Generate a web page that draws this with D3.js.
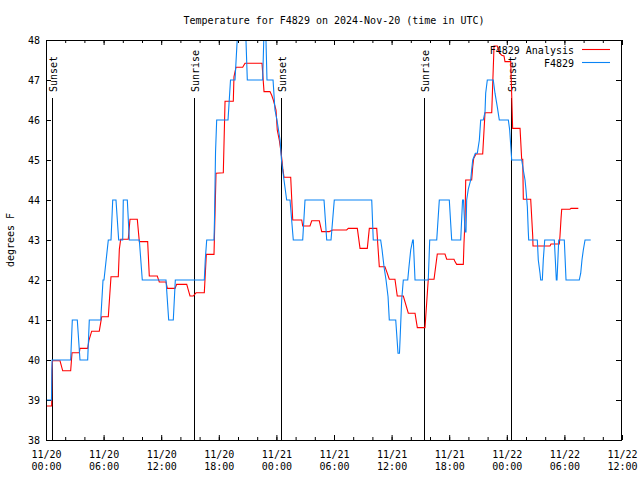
<!DOCTYPE html>
<html><head><meta charset="utf-8">
<script src="https://cdn.jsdelivr.net/npm/d3@7"></script>
<style>
body{margin:0;background:#fff}
text{font-family:"DejaVu Sans Mono",monospace;font-size:10px;fill:#000}
</style>
</head><body>
<svg id="c" width="640" height="480" style="background:#fff"></svg>
<script>
// ---- data (hours since 2024-11-20 00:00 UTC, degrees F) ----
const obsHours=[0.00,0.57,0.63,2.57,2.74,3.26,3.54,4.34,4.51,5.70,5.94,6.04,6.49,6.77,6.95,7.29,7.57,7.99,8.05,8.47,8.68,9.72,10.03,12.50,12.78,13.26,13.47,16.49,16.59,16.74,17.50,17.55,17.66,17.78,18.96,19.22,19.69,20.03,20.76,20.97,22.57,22.74,22.86,23.02,23.65,23.85,24.06,24.38,24.53,24.79,25.07,25.42,25.76,26.74,26.98,28.96,29.24,29.69,30.03,33.93,34.09,34.86,35.00,35.21,35.42,35.63,35.76,36.43,36.67,36.82,36.88,37.05,37.22,37.68,37.81,37.99,38.20,38.26,38.44,39.82,39.97,40.70,40.97,42.01,42.26,43.20,43.39,43.49,43.65,43.75,43.82,43.99,44.24,44.34,44.45,44.72,44.93,45.14,45.28,45.55,45.73,45.80,45.97,46.59,46.77,47.01,47.22,48.16,48.30,48.51,49.55,49.72,49.90,50.00,50.14,50.24,50.28,51.18,51.28,51.46,51.53,51.70,51.80,51.95,52.95,53.16,53.23,53.41,53.99,54.17,55.55,55.70,55.83,55.97,56.15,56.74];
const obsTemps=[39.0,39.0,40,40,41,41,40,40,41,41,42,42,43,43,44,44,43,43,44,44,43,43,42,42,41,41,42,42,42.5,43,43,43.5,45.2,46,46,47,47,48.5,48.5,47,47,48.5,48.5,47,47,46.25,46,45.5,45,44.5,44,44,43,43,44,44,43,43,44,44,43,43,42.77,42.33,42,41.58,41,41,40.17,40.17,40.5,41.5,42,42,42.33,42.75,43,43,42,42,43,43,44,44,43,43,44,44,43.2,43.2,44,44.27,44.5,44.75,45,45.17,45.17,45.5,46,46,46.2,46.67,47,47,46.67,46.33,46,46,45.75,45,45,44.75,44.5,44.25,43.83,43.2,43,43,42.5,42.17,42,42,42.5,43,43,42,42,43,43,42,42,42.17,42.5,42.75,43,43];

const anaHours=[0.00,0.59,0.63,0.68,1.46,1.74,2.57,2.71,3.47,3.54,4.34,4.48,4.76,5.55,5.80,6.49,6.77,7.53,7.64,7.78,8.57,8.75,9.51,9.72,10.59,10.76,11.59,11.70,11.80,12.50,12.64,13.44,13.61,14.66,14.79,15.00,15.34,15.63,16.49,16.70,17.50,17.71,18.47,18.65,19.51,19.58,19.79,20.49,20.73,22.50,22.71,23.33,23.51,23.68,23.96,24.09,24.30,24.45,24.58,24.66,24.79,25.49,25.70,26.64,26.74,27.50,27.68,28.47,28.72,29.51,29.86,31.32,31.49,32.43,32.71,33.47,33.68,34.45,34.72,35.31,35.49,35.76,36.35,36.59,37.22,37.74,38.44,38.68,39.48,39.82,40.42,40.76,41.56,41.74,42.50,42.60,42.78,43.47,43.54,43.65,43.72,44.34,44.45,44.55,44.79,45.49,45.73,46.43,46.67,47.01,47.22,47.47,47.71,47.81,48.41,48.61,49.38,49.55,49.66,49.72,50.49,50.70,50.73,52.50,52.60,53.47,53.54,53.65,53.72,54.58,54.69,55.45];
const anaTemps=[38.85,38.85,39.73,39.98,39.98,39.73,39.73,40.18,40.18,40.29,40.29,40.5,40.72,40.72,41.08,41.08,42.08,42.08,42.77,43.02,43.02,43.52,43.52,42.96,42.96,42.1,42.1,42.02,41.95,41.95,41.79,41.79,41.89,41.89,41.78,41.6,41.6,41.68,41.68,42.64,42.64,44.67,44.68,46.47,46.47,47.08,47.32,47.32,47.42,47.42,46.71,46.71,46.62,46.5,46.25,45.75,45.5,45.25,45.0,44.79,44.57,44.57,43.5,43.5,43.35,43.35,43.48,43.48,43.21,43.21,43.25,43.25,43.29,43.29,42.79,42.79,43.29,43.29,42.33,42.33,42.21,42.02,42.02,41.6,41.6,41.17,41.17,40.81,40.81,42.02,42.02,42.65,42.65,42.52,42.52,42.46,42.39,42.39,42.92,43.5,44.5,44.5,44.83,45.04,45.15,45.15,46.18,46.18,47.85,47.85,47.68,47.62,47.6,47.46,47.46,45.79,45.79,45.02,45.02,44.02,44.02,43.1,42.85,42.85,42.9,42.9,43.1,43.54,43.77,43.77,43.79,43.79];

const sunHours=[0.59,15.45,24.48,39.41,48.47];
const sunLabels=["Sunset","Sunrise","Sunset","Sunrise","Sunset"];
const yTickValues=[38,39,40,41,42,43,44,45,46,47,48];
const xMajorHours=[0,6,12,18,24,30,36,42,48,54,60];
const xMinorHours=d3.range(0,61,2);
const seriesNames=["F4829 Analysis","F4829"];
const seriesColors=["#ff0000","#0a84f5"];
const titleText="Temperature for F4829 on 2024-Nov-20 (time in UTC)";
const yLabelText="degrees F";

// ---- layout ----
const L=46,R=622,T=40,B=440;
const t0=Date.UTC(2024,10,20);
const toDate=h=>new Date(t0+h*3600e3);
const x=d3.scaleUtc().domain([toDate(0),toDate(60)]).range([L,R]);
const y=d3.scaleLinear().domain([38,48]).range([B,T]);
const svg=d3.select("#c");

svg.append("defs").append("clipPath").attr("id","clip")
  .append("rect").attr("x",L).attr("y",T).attr("width",R-L).attr("height",B-T);

// minor ticks
svg.append("g").attr("transform",`translate(0,${B})`)
  .call(d3.axisBottom(x).tickValues(xMinorHours.map(toDate)).tickSize(-3).tickFormat(""))
  .call(g=>g.select(".domain").remove());
svg.append("g").attr("transform",`translate(0,${T})`)
  .call(d3.axisTop(x).tickValues(xMinorHours.map(toDate)).tickSize(-3).tickFormat(""))
  .call(g=>g.select(".domain").remove());
// major ticks
const fD=d3.utcFormat("%m/%d"), fT=d3.utcFormat("%H:%M");
const gx=svg.append("g").attr("transform",`translate(0,${B})`)
  .call(d3.axisBottom(x).tickValues(xMajorHours.map(toDate)).tickSize(-5).tickFormat(fD))
  .call(g=>g.select(".domain").remove());
gx.selectAll(".tick text").each(function(d){
  const t=d3.select(this);
  t.text(null).attr("y",null).attr("dy",null);
  t.append("tspan").attr("x",0).attr("y",17.5).text(fD(d));
  t.append("tspan").attr("x",0).attr("y",29.5).text(fT(d));
});
svg.append("g").attr("transform",`translate(0,${T})`)
  .call(d3.axisTop(x).tickValues(xMajorHours.map(toDate)).tickSize(-5).tickFormat(""))
  .call(g=>g.select(".domain").remove());
svg.append("g").attr("transform",`translate(${L},0)`)
  .call(d3.axisLeft(y).tickValues(yTickValues).tickSize(-5).tickPadding(6).tickFormat(d3.format("d")))
  .call(g=>g.select(".domain").remove());
svg.append("g").attr("transform",`translate(${R},0)`)
  .call(d3.axisRight(y).tickValues(yTickValues).tickSize(-6).tickFormat(""))
  .call(g=>g.select(".domain").remove());
svg.selectAll(".tick line").attr("stroke","#000");
svg.selectAll(".tick text").style("font-family",'"DejaVu Sans Mono",monospace').style("font-size","10px");

// sunrise / sunset
sunHours.forEach((h,i)=>{
  const sx=Math.round(x(toDate(h)))+0.5;
  svg.append("line").attr("x1",sx).attr("x2",sx).attr("y1",98).attr("y2",B).attr("stroke","#000").attr("stroke-width",1);
  svg.append("text").attr("transform",`translate(${sx+4.5},92) rotate(-90)`).attr("text-anchor","start").text(sunLabels[i]);
});

// series
const line=d3.line().x(d=>x(toDate(d[0]))).y(d=>y(d[1])).curve(d3.curveLinear);
const ana=anaHours.map((h,i)=>[h,anaTemps[i]]);
const obs=obsHours.map((h,i)=>[h,obsTemps[i]]);
const gd=svg.append("g").attr("clip-path","url(#clip)");
gd.append("path").attr("d",line(ana)).attr("fill","none").attr("stroke",seriesColors[0]).attr("stroke-width",1.1);
gd.append("path").attr("d",line(obs)).attr("fill","none").attr("stroke",seriesColors[1]).attr("stroke-width",1.1);

// frame
svg.append("rect").attr("x",L+0.5).attr("y",T+0.5).attr("width",R-L-1).attr("height",B-T).attr("fill","none").attr("stroke","#000");

// legend
seriesNames.forEach((n,i)=>{
  const ly=49.5+i*13;
  svg.append("text").attr("x",574).attr("y",ly+4).attr("text-anchor","end").text(n);
  svg.append("line").attr("x1",582).attr("x2",610).attr("y1",ly).attr("y2",ly).attr("stroke",seriesColors[i]).attr("stroke-width",1.1);
});

// title and y label
svg.append("text").attr("x",334).attr("y",24).attr("text-anchor","middle").text(titleText);
svg.append("text").attr("transform","translate(14,240) rotate(-90)").attr("text-anchor","middle").text(yLabelText);
</script>
</body></html>
